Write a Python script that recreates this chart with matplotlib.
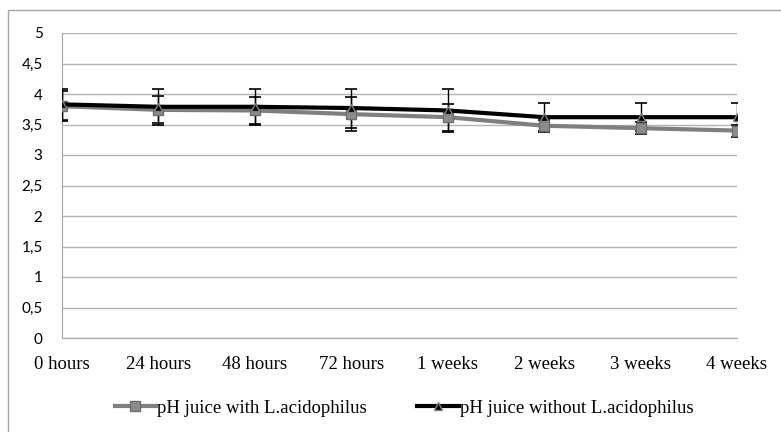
import numpy as np
import matplotlib.pyplot as plt
from matplotlib.patches import Rectangle

# Data
categories = ['0 hours', '24 hours', '48 hours', '72 hours', '1 weeks', '2 weeks', '3 weeks', '4 weeks']
ph_with = [3.80, 3.74, 3.73, 3.67, 3.62, 3.48, 3.44, 3.40]
err_with = [0.25, 0.22, 0.22, 0.28, 0.22, 0.10, 0.10, 0.10]
ph_without = [3.83, 3.79, 3.79, 3.77, 3.73, 3.62, 3.62, 3.62]
err_without = [0.26, 0.30, 0.30, 0.32, 0.36, 0.23, 0.23, 0.23]
y_ticks = [0, 0.5, 1, 1.5, 2, 2.5, 3, 3.5, 4, 4.5, 5]
y_labels = ['0', '0,5', '1', '1,5', '2', '2,5', '3', '3,5', '4', '4,5', '5']

plt.rcParams['font.family'] = ['Liberation Serif', 'DejaVu Serif']

W, H = 781, 432
fig = plt.figure(figsize=(W / 100, H / 100), dpi=100)
ax = fig.add_axes([62 / W, 1 - 338 / H, (737 - 62) / W, (338 - 33) / H])

# outer chart border (cut by image on right and bottom)
fig.patches.append(Rectangle((8 / W, -0.05), 1.2, 1 - 10 / H + 0.05,
                             transform=fig.transFigure, fill=False,
                             edgecolor='#a6a6a6', linewidth=1.0))

x = np.arange(len(categories))

ax.errorbar(x, ph_with, yerr=err_with, fmt='none', ecolor='black',
            elinewidth=1.0, capsize=4, capthick=1.2, zorder=3)
ax.errorbar(x, ph_without, yerr=err_without, fmt='none', ecolor='black',
            elinewidth=1.0, capsize=4, capthick=1.2, zorder=3)

ax.plot(x, ph_with, color='#7f7f7f', linewidth=3, marker='s', markersize=7,
        markerfacecolor='#8c8c8c', markeredgecolor='#6e6e6e',
        label='pH juice with L.acidophilus', zorder=4)
ax.plot(x, ph_without, color='black', linewidth=3, marker='^', markersize=6,
        markerfacecolor='black', markeredgecolor='#7f7f7f',
        label='pH juice without L.acidophilus', zorder=5)

ax.set_xlim(0, len(categories) - 1)
ax.set_ylim(0, 5)
ax.set_xticks(x)
ax.set_xticklabels(categories, fontsize=13.5)
ax.set_yticks(y_ticks)
ax.set_yticklabels(y_labels, family=['Lato', 'DejaVu Sans'], fontsize=11)
ax.tick_params(axis='both', length=0, colors='black')
ax.tick_params(axis='y', pad=14)
ax.tick_params(axis='x', pad=13)

ax.grid(axis='y', color='#b3b3b3', linewidth=1.0)
ax.set_axisbelow(True)
for side in ['top', 'right']:
    ax.spines[side].set_visible(False)
ax.spines['left'].set_color('#a6a6a6')
ax.spines['bottom'].set_color('#a6a6a6')

fig.legend(loc='center', bbox_to_anchor=(404 / W, 1 - 408 / H), ncol=2,
           frameon=False, fontsize=13.5, handlelength=2.2, handletextpad=0.05,
           columnspacing=2.7)

fig.savefig('out.png', dpi=100)
